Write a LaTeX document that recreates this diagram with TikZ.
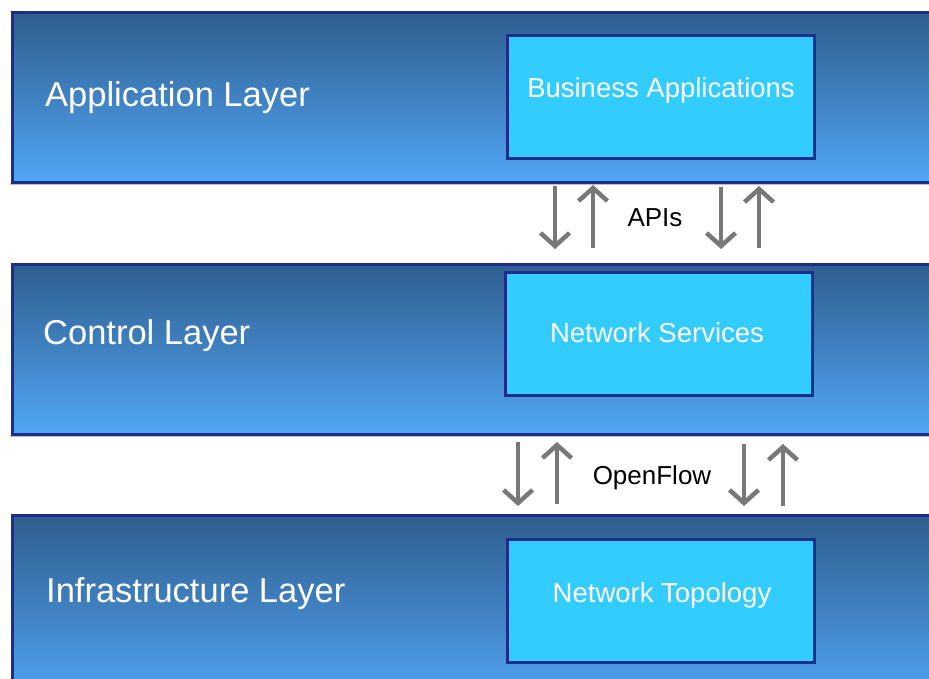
\documentclass[tikz,border=0pt]{standalone}
\usepackage{fontspec}
\setmainfont{Liberation Sans}
\usetikzlibrary{arrows.meta}
\definecolor{bandtop}{RGB}{48,94,143}
\definecolor{bandbot}{RGB}{80,166,245}
\definecolor{bandedge}{RGB}{30,45,135}
\definecolor{boxfill}{RGB}{51,204,255}
\definecolor{arrowgray}{RGB}{120,120,120}
\definecolor{shadowgray}{RGB}{190,190,195}
\tikzset{
  band/.style={draw=bandedge, line width=3pt, top color=bandtop, bottom color=bandbot,
    minimum width=940pt, inner sep=0pt, anchor=north west},
  sbox/.style={draw=bandedge, line width=3pt, fill=boxfill, inner sep=0pt,
    minimum width=307pt, minimum height=123pt, anchor=north west},
  layerlabel/.style={text=white, font=\fontsize{34.5}{40}\selectfont, inner sep=0pt, anchor=base west},
  boxlabel/.style={text=white, font=\fontsize{27.5}{32}\selectfont, inner sep=0pt, anchor=base},
  ifacelabel/.style={text=black, font=\fontsize{26}{32}\selectfont, inner sep=0pt, anchor=base},
  arr/.style={draw=arrowgray, line width=4.5pt, -{Straight Barb[length=13pt,width=29pt,line width=4.5pt]}},
  shadowline/.style={draw=shadowgray, line width=2pt}
}
\begin{document}
\begin{tikzpicture}[x=1pt,y=-1pt]
\useasboundingbox (0,0) rectangle (929,679);
\fill[white] (0,0) rectangle (929,679);
\begin{scope}
\clip (0,0) rectangle (929,679);
% shadow lines under bands
\draw[shadowline] (10,184) -- (935,184);
\draw[shadowline] (10,436) -- (935,436);
% layer bands
\node[band, minimum height=170pt] (appband) at (11,11) {};
\node[band, minimum height=170pt] (ctlband) at (11,263) {};
\node[band, minimum height=190pt] (infband) at (11,514) {};
\end{scope}
% inner boxes
\node[sbox] (bizapp) at (506,34) {};
\node[sbox] (netsvc) at (504,271) {};
\node[sbox] (nettop) at (506,538) {};
% layer labels
\node[layerlabel] (applbl) at (45,107) {Application Layer};
\node[layerlabel] (ctllbl) at (43,344) {Control Layer};
\node[layerlabel] (inflbl) at (46,602) {Infrastructure Layer};
% box labels
\node[boxlabel] (bizlbl) at (661,98) {Business Applications};
\node[boxlabel] (svclbl) at (657,342) {Network Services};
\node[boxlabel] (toplbl) at (662,602) {Network Topology};
% interface labels
\node[ifacelabel] (apis) at (655,227) {APIs};
\node[ifacelabel] (oflow) at (652,484) {OpenFlow};
% arrow end points
\coordinate (a1t) at (555,186); \coordinate (a1b) at (555,249);
\coordinate (a2t) at (593,185); \coordinate (a2b) at (593,248);
\coordinate (a3t) at (721,187); \coordinate (a3b) at (721,249);
\coordinate (a4t) at (759,186); \coordinate (a4b) at (759,248);
\coordinate (o1t) at (518,442); \coordinate (o1b) at (518,506);
\coordinate (o2t) at (557,442); \coordinate (o2b) at (557,504);
\coordinate (o3t) at (744,444); \coordinate (o3b) at (744,506);
\coordinate (o4t) at (783,444); \coordinate (o4b) at (783,506);
% arrows
\draw[arr] (a1t) -- (a1b);
\draw[arr] (a2b) -- (a2t);
\draw[arr] (a3t) -- (a3b);
\draw[arr] (a4b) -- (a4t);
\draw[arr] (o1t) -- (o1b);
\draw[arr] (o2b) -- (o2t);
\draw[arr] (o3t) -- (o3b);
\draw[arr] (o4b) -- (o4t);
\end{tikzpicture}
\end{document}
